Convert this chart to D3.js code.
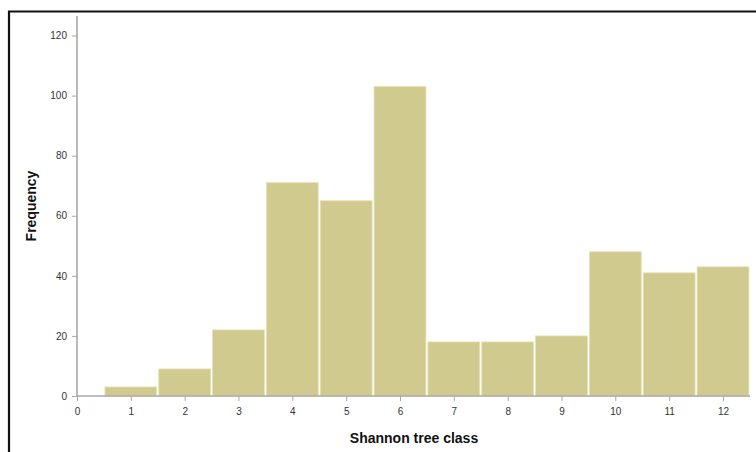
<!DOCTYPE html>
<html><head><meta charset="utf-8">
<script src="https://cdn.jsdelivr.net/npm/d3@7"></script>
<style>body{margin:0;background:#fff}svg{display:block}</style>
</head><body>
<svg id="c" width="756" height="452"></svg>
<script>
const classes = [1,2,3,4,5,6,7,8,9,10,11,12];
const frequencies = [3,9,22,71,65,103,18,18,20,48,41,43];
const xTicks = [0,1,2,3,4,5,6,7,8,9,10,11,12];
const yTicks = [0,20,40,60,80,100,120];

const svg = d3.select('#c');
// frame
svg.append('path').attr('d','M9,452 V11.5 H756').attr('fill','none').attr('stroke','#111').attr('stroke-width',2.2);

const x = d3.scaleLinear().domain([0,12]).range([77,723]);
const y = d3.scaleLinear().domain([0,120]).range([396,35.5]);

const g = svg.append('g');
g.selectAll('rect').data(classes).join('rect')
  .attr('x', (d)=>x(d-0.5)+1)
  .attr('width', (d)=>x(d+0.5)-x(d-0.5)-2)
  .attr('y', (d,i)=>y(frequencies[i]))
  .attr('height', (d,i)=>y(0)-y(frequencies[i]))
  .attr('fill','#d0ca8e')
  .attr('stroke','#e6e2b6').attr('stroke-width',0.8);

const axCol = '#a8a8a8';
const yAx = svg.append('g').attr('transform','translate(77,0)')
  .call(d3.axisLeft(y).tickValues(yTicks).tickSize(5).tickPadding(5).tickFormat(d3.format('d')));
yAx.select('.domain').remove();
svg.append('line').attr('x1',77).attr('x2',77).attr('y1',16).attr('y2',396).attr('stroke',axCol).attr('stroke-width',1.6);

const xAx = svg.append('g').attr('transform','translate(0,396)')
  .call(d3.axisBottom(x).tickValues(xTicks).tickSize(5).tickPadding(7).tickFormat(d3.format('d')));
xAx.select('.domain').remove();
svg.append('line').attr('x1',77).attr('x2',750).attr('y1',396).attr('y2',396).attr('stroke',axCol).attr('stroke-width',1.6);

svg.selectAll('.tick line').attr('stroke',axCol);
svg.selectAll('.tick text').attr('fill','#333').style('font-family','"Liberation Sans", Arial, sans-serif').style('font-size','10px');

svg.append('text').attr('x',414).attr('y',443).attr('text-anchor','middle')
  .style('font-family','"Liberation Sans", Arial, sans-serif').style('font-size','14px').style('font-weight','bold')
  .attr('fill','#111').text('Shannon tree class');
svg.append('text').attr('transform','translate(36,206) rotate(-90)').attr('text-anchor','middle')
  .style('font-family','"Liberation Sans", Arial, sans-serif').style('font-size','14px').style('font-weight','bold')
  .attr('fill','#111').text('Frequency');
</script>
</body></html>
